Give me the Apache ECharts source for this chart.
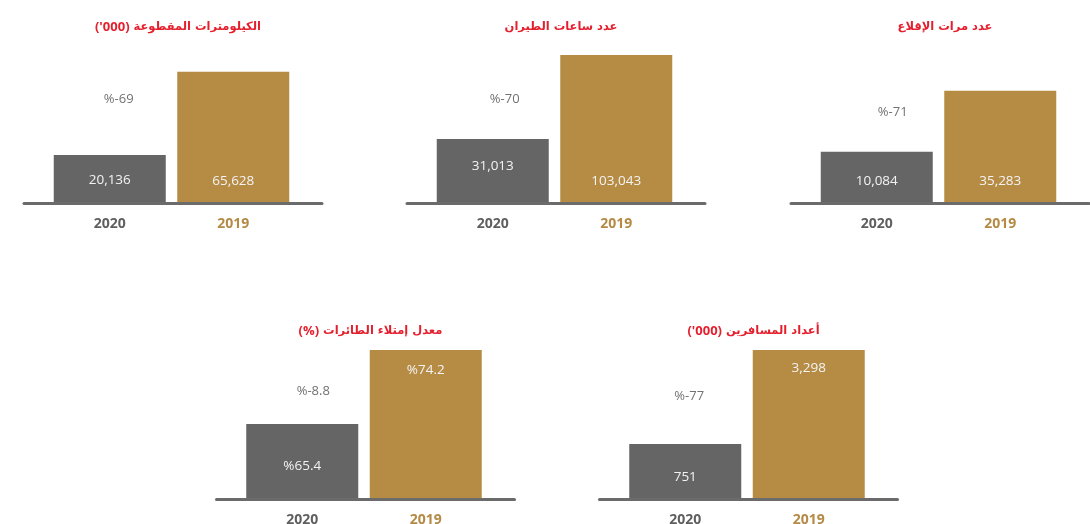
<!DOCTYPE html>
<html><head><meta charset="utf-8">
<script src="https://cdn.jsdelivr.net/npm/echarts@6/dist/echarts.min.js"></script>
<style>html,body{margin:0;padding:0;background:#fff}#c{width:1090px;height:524px}</style>
</head><body><div id="c"></div>
<script>
// ---- data ----
const categories = ['2020', '2019'];
const titleUnits = ["('000)", '', '', '(%)', "('000)"];
const titles = ['الكيلومترات المقطوعة', 'عدد ساعات الطيران', 'عدد مرات الإقلاع', 'معدل إمتلاء الطائرات', 'أعداد المسافرين'];
const values2020 = [20136, 31013, 10084, 65.4, 751];
const values2019 = [65628, 103043, 35283, 74.2, 3298];
const changeLabels = ['%-69', '%-70', '%-71', '%-8.8', '%-77'];
const valuePrefix = ['', '', '', '%', ''];

// ---- layout / style ----
const panels = [
  {cx: 173, base: 202, ttop: 16, top: 40, min: -5500, max: 83000, l20: ['insideBottom', 15], l19: ['insideBottom', 14], chg: [9, -56]},
  {cx: 556, base: 202, ttop: 16, top: 40, min: -23000, max: 116000, l20: ['insideBottom', 29], l19: ['insideBottom', 14], chg: [12, -40]},
  {cx: 940, base: 202, ttop: 16, top: 40, min: -10700, max: 56200, l20: ['insideBottom', 14], l19: ['insideBottom', 14], chg: [16, -39]},
  {cx: 365.5, base: 498, ttop: 320, top: 340, min: 56.6, max: 75.4, l20: ['insideBottom', 25], l19: ['insideTop', 13], chg: [11, -33]},
  {cx: 748.5, base: 498, ttop: 320, top: 340, min: -712, max: 3569, l20: ['insideBottom', 14], l19: ['insideTop', 11], chg: [4, -48]}
];
const GRAY = '#656565', GOLD = '#b68c45';
const W = 1090, H = 524;
const numFont = "'Open Sans', 'DejaVu Sans', sans-serif";
const arFont = "'DejaVu Sans', sans-serif";

const fmt = (v, i) => valuePrefix[i] + (valuePrefix[i] ? String(v) : v.toLocaleString('en-US'));

const grid = [], xAxis = [], yAxis = [], series = [], title = [];
panels.forEach((p, i) => {
  const gi = grid.length;
  grid.push({left: p.cx - 125, width: 247, top: p.top, bottom: H - p.base, outerBoundsMode: 'none', containLabel: false});
  grid.push({left: p.cx - 149, width: 298, top: p.top, bottom: H - p.base - 1.5, outerBoundsMode: 'none', containLabel: false});
  xAxis.push({
    type: 'category', gridIndex: gi, data: categories,
    axisLine: {show: false}, axisTick: {show: false},
    axisLabel: {margin: 15, fontSize: 14, fontWeight: 'bold', fontFamily: numFont,
      color: (val, idx) => idx === 0 ? '#5f5f5f' : '#b48a45'}
  });
  xAxis.push({
    type: 'value', gridIndex: gi + 1, min: 0, max: 1,
    axisLine: {show: true, onZero: false, lineStyle: {color: '#6b6b6b', width: 3}},
    axisTick: {show: false}, axisLabel: {show: false}, splitLine: {show: false}
  });
  yAxis.push({type: 'value', gridIndex: gi, min: p.min, max: p.max, startValue: p.min, show: false, splitLine: {show: false}});
  yAxis.push({type: 'value', gridIndex: gi + 1, min: 0, max: 1, show: false, splitLine: {show: false}});
  const labelStyle = (pos) => ({show: true, position: pos[0], distance: pos[1], color: '#f3f3f3',
    fontSize: 13.5, fontFamily: numFont, formatter: (d) => fmt(d.value, i)});
  series.push({
    type: 'bar', xAxisIndex: gi, yAxisIndex: gi, barWidth: 112, z: 2,
    data: [
      {value: values2020[i], itemStyle: {color: GRAY}, label: labelStyle(p.l20)},
      {value: values2019[i], itemStyle: {color: GOLD}, label: labelStyle(p.l19)}
    ],
    markPoint: {
      symbol: 'circle', symbolSize: 0, silent: true,
      label: {show: true, position: 'inside', offset: p.chg, color: '#727272', fontSize: 13, fontFamily: numFont,
        formatter: () => changeLabels[i]},
      data: [{coord: [categories[0], values2020[i]]}]
    }
  });
  const txt = titleUnits[i] ? '{u|' + titleUnits[i] + '}{s| }{a|' + titles[i] + '}' : '{a|' + titles[i] + '}';
  title.push({
    text: txt, left: p.cx, textAlign: 'center', top: p.ttop,
    textStyle: {
      color: '#e5202e', fontSize: 11.5, fontWeight: 'bold', fontFamily: arFont,
      rich: {
        u: {color: '#e5202e', fontSize: 13, fontWeight: 'bold', fontFamily: numFont},
        s: {fontSize: 11.5, fontFamily: arFont},
        a: {color: '#e5202e', fontSize: 11.5, fontWeight: 'bold', fontFamily: arFont}
      }
    }
  });
});

const chart = echarts.init(document.getElementById('c'), null, {renderer: 'canvas'});
chart.setOption({animation: false, backgroundColor: '#fff', title, grid, xAxis, yAxis, series});
</script></body></html>
